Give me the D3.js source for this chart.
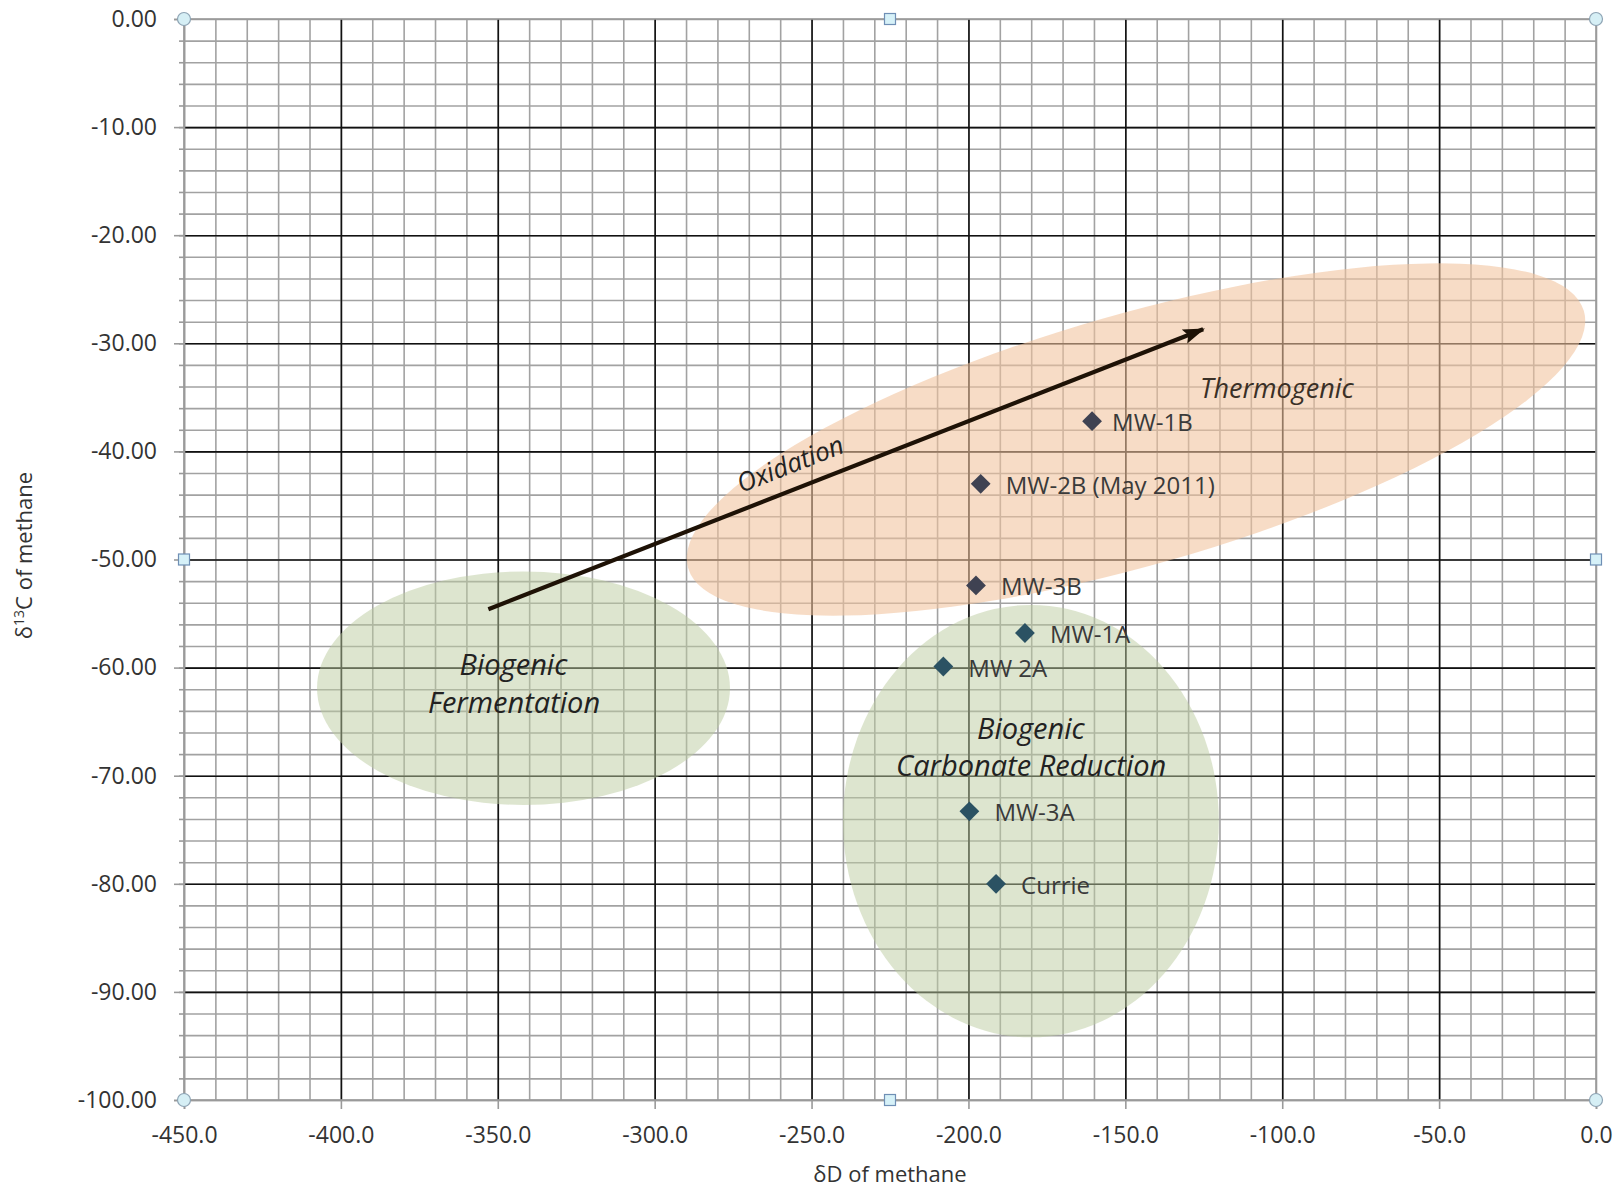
<!DOCTYPE html>
<html lang="en">
<head>
    <title>Methane isotopes - dD vs d13C</title>
    <meta charset="UTF-8">
    <script src="https://d3js.org/d3.v7.min.js"></script>
    <style>
      body { margin: 0; background: #fff; }
      svg { display: block; font-family: "Open Sans", "Noto Sans", sans-serif; }
    </style>
</head>
<body>
    <div id="viz">
      <svg style="width:1623px;height:1188px;"></svg>
    </div>

    <script>
      // sample wells: dD and d13C of methane
      let wellNames = ["MW-1B", "MW-2B (May 2011)", "MW-3B", "MW-1A", "MW 2A", "MW-3A", "Currie"]
      let deltaD   = [-160.6, -196.1, -197.6, -182.0, -208.0, -199.7, -191.2]
      let delta13C = [-37.2, -43.0, -52.4, -56.8, -59.9, -73.3, -80.0]
      let wellGroup = ["deep", "deep", "deep", "shallow", "shallow", "shallow", "shallow"]

      // tick values
      let xTicks = [-450, -400, -350, -300, -250, -200, -150, -100, -50, 0]
      let yTicks = [0, -10, -20, -30, -40, -50, -60, -70, -80, -90, -100]

      // genetic zones (centre + semi axes in data units, rotation in degrees)
      let zoneNames = ["Biogenic Fermentation", "Biogenic Carbonate Reduction", "Thermogenic"]
      let zoneCx = [-341.8, -180.1, -146.6]
      let zoneCy = [-61.9, -74.2, -38.9]
      let zoneRx = [65.8, 59.9, 148.5]
      let zoneRy = [10.8, 20.0, 11.6]
      let zoneTilt = [0, 0, -16]
      let zoneKind = ["bio", "bio", "thermo"]

      // oxidation arrow (start, end)
      let arrowD = [-353.0, -125.2]
      let arrowC = [-54.6, -28.7]

      let svg = d3.select("svg")
      let pLeft = 184, pRight = 1596, pTop = 19, pBottom = 1100

      let xScale = d3.scaleLinear().domain([-450, 0]).range([pLeft, pRight])
      let yScale = d3.scaleLinear().domain([0, -100]).range([pTop, pBottom])

      let xMinor = d3.range(-450, 0.1, 10)
      let yMinor = d3.range(0, -100.1, -2)

      /* minor grid first, majors on top of it */
      svg.append("g").attr("class", "grid minor")
        .attr("transform", `translate(0,${pBottom})`)
        .call(d3.axisBottom(xScale).tickValues(xMinor).tickSize(-(pBottom - pTop)).tickFormat(""))
      svg.append("g").attr("class", "grid minor")
        .attr("transform", `translate(${pLeft},0)`)
        .call(d3.axisLeft(yScale).tickValues(yMinor).tickSize(-(pRight - pLeft)).tickFormat(""))
      svg.selectAll(".grid.minor line").attr("stroke", "#a2a2a2").attr("stroke-width", 1.6)

      svg.append("g").attr("class", "grid major")
        .attr("transform", `translate(0,${pBottom})`)
        .call(d3.axisBottom(xScale).tickValues(xTicks.slice(1, -1)).tickSize(-(pBottom - pTop)).tickFormat(""))
      svg.append("g").attr("class", "grid major")
        .attr("transform", `translate(${pLeft},0)`)
        .call(d3.axisLeft(yScale).tickValues(yTicks.slice(1, -1)).tickSize(-(pRight - pLeft)).tickFormat(""))
      svg.selectAll(".grid.major line").attr("stroke", "#111").attr("stroke-width", 1.6)
      svg.selectAll(".grid .domain").remove()

      // frame of the plot area
      svg.append("rect")
        .attr("x", pLeft).attr("y", pTop)
        .attr("width", pRight - pLeft).attr("height", pBottom - pTop)
        .attr("fill", "none").attr("stroke", "#9a9a9a").attr("stroke-width", 1.6)

      /* translucent zones over the grid */
      let zones = zoneNames.map((n, i) => ({name: n, cx: zoneCx[i], cy: zoneCy[i], rx: zoneRx[i], ry: zoneRy[i], tilt: zoneTilt[i], kind: zoneKind[i]}))
      svg.append("g").selectAll("ellipse")
        .data(zones).enter()
        .append("ellipse")
        .attr("transform", d => `translate(${xScale(d.cx)},${yScale(d.cy)}) rotate(${d.tilt})`)
        .attr("rx", d => xScale(d.cx + d.rx) - xScale(d.cx))
        .attr("ry", d => yScale(d.cy - d.ry) - yScale(d.cy))
        .attr("fill", d => d.kind == "bio" ? "#bbcb9f" : "#f2c29c")
        .attr("fill-opacity", d => d.kind == "bio" ? 0.5 : 0.58)

      /* axes with tick labels */
      let yAxis = d3.axisLeft(yScale).tickValues(yTicks).tickSize(10).tickPadding(17)
        .tickFormat(d => d.toFixed(2))
      svg.append("g").attr("id", "yAxisG").attr("transform", `translate(${pLeft},0)`).call(yAxis)
      svg.append("g").attr("transform", `translate(${pLeft},0)`)
        .call(d3.axisLeft(yScale).tickValues(yMinor).tickSize(5).tickFormat(""))
        .call(g => g.select(".domain").remove())
        .selectAll("line").attr("stroke", "#9a9a9a").attr("stroke-width", 1.6)

      let xAxis = d3.axisBottom(xScale).tickValues(xTicks).tickSize(9).tickPadding(18)
        .tickFormat(d => d.toFixed(1))
      svg.append("g").attr("id", "xAxisG").attr("transform", `translate(0,${pBottom})`).call(xAxis)

      svg.selectAll("#xAxisG .domain, #yAxisG .domain").attr("stroke", "#9a9a9a").attr("stroke-width", 1.6)
      svg.selectAll("#xAxisG line, #yAxisG line").attr("stroke", "#9a9a9a").attr("stroke-width", 1.6)
      svg.selectAll("#xAxisG text, #yAxisG text")
        .attr("font-size", 23).attr("fill", "#333").attr("font-family", "Open Sans")

      // axis titles
      svg.append("text")
        .attr("x", (pLeft + pRight) / 2).attr("y", 1182)
        .attr("text-anchor", "middle").attr("font-size", 22).attr("fill", "#333")
        .text("δD of methane")
      let yTitle = svg.append("text")
        .attr("transform", `translate(32,${(pTop + pBottom) / 2 - 4}) rotate(-90)`)
        .attr("text-anchor", "middle").attr("font-size", 22).attr("fill", "#333")
      yTitle.append("tspan").text("δ")
      yTitle.append("tspan").attr("font-size", 14).attr("dy", -8).text("13")
      yTitle.append("tspan").attr("dy", 8).text("C of methane")

      /* oxidation arrow */
      svg.append("defs").append("marker")
        .attr("id", "head").attr("markerUnits", "userSpaceOnUse")
        .attr("viewBox", "0 -8 22 16").attr("markerWidth", 22).attr("markerHeight", 16)
        .attr("refX", 20).attr("refY", 0).attr("orient", "auto")
        .append("path").attr("d", "M0,-7.5L22,0L0,7.5L4,0Z").attr("fill", "#1e1206")

      svg.append("line")
        .attr("x1", xScale(arrowD[0])).attr("y1", yScale(arrowC[0]))
        .attr("x2", xScale(arrowD[1])).attr("y2", yScale(arrowC[1]))
        .attr("stroke", "#1e1206").attr("stroke-width", 4.2)
        .attr("marker-end", "url(#head)")

      let ang = Math.atan2(yScale(arrowC[1]) - yScale(arrowC[0]), xScale(arrowD[1]) - xScale(arrowD[0])) * 180 / Math.PI
      svg.append("text")
        .attr("transform", `translate(${xScale(-256.9)},${yScale(-41.1)}) rotate(${ang})`)
        .attr("text-anchor", "middle").attr("dominant-baseline", "central")
        .attr("font-size", 26).attr("font-style", "italic").attr("fill", "#222")
        .text("Oxidation")

      /* zone labels */
      let zoneText = [
        {t: "Biogenic", x: -345.0, y: -60.7},
        {t: "Fermentation", x: -344.8, y: -64.2},
        {t: "Biogenic", x: -180.1, y: -66.6},
        {t: "Carbonate Reduction", x: -180.0, y: -70.0},
        {t: "Thermogenic", x: -101.7, y: -35.1}
      ]
      svg.append("g").selectAll("text")
        .data(zoneText).enter()
        .append("text")
        .attr("x", d => xScale(d.x)).attr("y", d => yScale(d.y))
        .attr("text-anchor", "middle")
        .attr("font-size", d => d.t == "Thermogenic" ? 27 : 29)
        .attr("font-style", "italic").attr("fill", d => d.t == "Thermogenic" ? "#3a3026" : "#222")
        .text(d => d.t)

      /* wells as diamonds */
      let wells = wellNames.map((n, i) => ({name: n, dD: deltaD[i], dC: delta13C[i], group: wellGroup[i]}))
      let diamond = d3.symbol().type(d3.symbolDiamond2).size(250)
      svg.append("g").selectAll("path")
        .data(wells).enter()
        .append("path")
        .attr("d", diamond)
        .attr("transform", d => `translate(${xScale(d.dD)},${yScale(d.dC)})`)
        .attr("fill", d => d.group == "deep" ? "#3f4252" : "#2b5263")

      svg.append("g").selectAll("text")
        .data(wells).enter()
        .append("text")
        .attr("x", d => xScale(d.dD) + (d.name == "MW-1B" ? 20 : 25))
        .attr("y", d => yScale(d.dC) + 10)
        .attr("font-size", 24).attr("fill", "#3a3a3a")
        .text(d => d.name)

      /* selection handles on the plot area frame */
      let xd = xScale.domain(), yd = yScale.domain()
      let corners = [[xd[0], yd[0]], [xd[1], yd[0]], [xd[0], yd[1]], [xd[1], yd[1]]]
      let mids = [[d3.mean(xd), yd[0]], [d3.mean(xd), yd[1]], [xd[0], d3.mean(yd)], [xd[1], d3.mean(yd)]]
      svg.append("g").selectAll("circle")
        .data(corners).enter()
        .append("circle").attr("r", 6.5)
        .attr("cx", d => xScale(d[0])).attr("cy", d => yScale(d[1]))
        .attr("fill", "#d6eff5").attr("stroke", "#8ea4b4").attr("stroke-width", 1.2)
      svg.append("g").selectAll("rect")
        .data(mids).enter()
        .append("rect").attr("width", 11).attr("height", 11)
        .attr("x", d => xScale(d[0]) - 5.5).attr("y", d => yScale(d[1]) - 5.5)
        .attr("fill", "#d6f1f8").attr("stroke", "#6f8fb5").attr("stroke-width", 1.2)
    </script>
</body>
</html>
